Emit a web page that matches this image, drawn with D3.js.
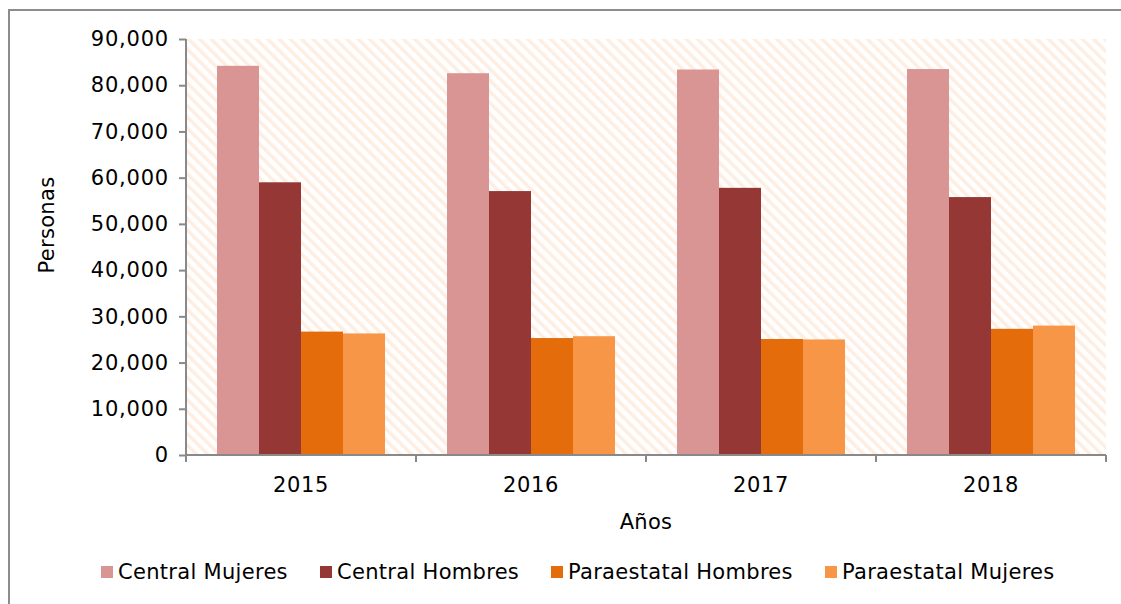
<!DOCTYPE html>
<html lang="es">
<head>
<meta charset="UTF-8">
<title>Personas por año</title>
<style>
  body { margin: 0; background: #fff; }
  svg text { font-family: "DejaVu Sans", Verdana, sans-serif; fill: #000; font-size: 21px; }
  .axis path, .axis line { stroke: #898989; stroke-width: 2px; }
</style>
</head>
<body>
<script src="https://d3js.org/d3.v7.min.js"></script>
<script>
// data
const years = ['2015', '2016', '2017', '2018'];
const seriesNames = ['Central Mujeres', 'Central Hombres', 'Paraestatal Hombres', 'Paraestatal Mujeres'];
const centralMujeres = [84200, 82600, 83400, 83500];
const centralHombres = [59000, 57100, 57800, 55800];
const paraHombres = [26700, 25300, 25100, 27300];
const paraMujeres = [26300, 25700, 25000, 28000];
const yTicks = [0, 10000, 20000, 30000, 40000, 50000, 60000, 70000, 80000, 90000];

const colors = ['#d99594', '#953735', '#e46c0a', '#f79646'];
const allSeries = [centralMujeres, centralHombres, paraHombres, paraMujeres];

const W = 1121, H = 604;
const margin = { top: 39, right: 15, bottom: 149, left: 186 };
const width = W - margin.left - margin.right;
const height = H - margin.top - margin.bottom;

const svg = d3.select('body').append('svg')
  .attr('width', W)
  .attr('height', H);

// outer frame (cut off at right/bottom like the original)
svg.append('path')
  .attr('d', `M9,${H} V10 H${W}`)
  .attr('fill', 'none')
  .attr('stroke', '#8c8c8c')
  .attr('stroke-width', 2);

// hatch pattern for plot background
const defs = svg.append('defs');
const pat = defs.append('pattern')
  .attr('id', 'hatch')
  .attr('patternUnits', 'userSpaceOnUse')
  .attr('width', 8)
  .attr('height', 8)
  .attr('patternTransform', 'rotate(-45)');
pat.append('rect').attr('width', 8).attr('height', 8).attr('fill', '#fff');
pat.append('rect').attr('width', 3.5).attr('height', 8).attr('fill', '#feeee2');

const g = svg.append('g')
  .attr('transform', `translate(${margin.left},${margin.top})`);

g.append('rect')
  .attr('width', width)
  .attr('height', height)
  .attr('fill', 'url(#hatch)');

const x0 = d3.scaleBand().domain(years).range([0, width]).padding(0);
const x1 = d3.scaleBand().domain(seriesNames).range([0, x0.bandwidth()])
  .paddingInner(0).paddingOuter(0.738);
const y = d3.scaleLinear().domain([0, 90000]).range([height, 0]);

// bars
const groups = g.selectAll('.year')
  .data(years)
  .join('g')
  .attr('class', 'year')
  .attr('transform', d => `translate(${x0(d)},0)`);

groups.selectAll('rect')
  .data((d, i) => seriesNames.map((s, j) => ({ s, j, v: allSeries[j][i] })))
  .join('rect')
  .attr('x', d => x1(d.s))
  .attr('y', d => y(d.v))
  .attr('width', x1.bandwidth())
  .attr('height', d => height - y(d.v))
  .attr('fill', d => colors[d.j]);

// y axis
const yAxis = g.append('g')
  .attr('class', 'axis')
  .call(d3.axisLeft(y).tickValues(yTicks).tickSize(7).tickPadding(10)
    .tickFormat(d3.format(',')));
yAxis.select('.domain').attr('d', `M0,${height}V0`);
yAxis.selectAll('text')
  .style('font-size', '21px')
  .style('letter-spacing', '0.8px');

// x axis: ticks at group boundaries, labels centered
const xAxis = g.append('g')
  .attr('class', 'axis')
  .attr('transform', `translate(0,${height})`);
xAxis.append('path')
  .attr('d', `M0,0H${width}`)
  .attr('fill', 'none');
const bounds = years.map(d => x0(d)).concat([width]);
xAxis.selectAll('.bt')
  .data(bounds)
  .join('line')
  .attr('class', 'bt')
  .attr('x1', d => d).attr('x2', d => d)
  .attr('y1', 0).attr('y2', 7);
xAxis.selectAll('.lbl')
  .data(years)
  .join('text')
  .attr('class', 'lbl')
  .attr('x', d => x0(d) + x0.bandwidth() / 2)
  .attr('y', 37)
  .attr('text-anchor', 'middle')
  .style('letter-spacing', '0.6px')
  .text(d => d);

// axis titles
svg.append('text')
  .attr('transform', 'translate(54,225) rotate(-90)')
  .attr('text-anchor', 'middle')
  .style('letter-spacing', '0.3px')
  .text('Personas');
svg.append('text')
  .attr('x', margin.left + width / 2)
  .attr('y', 529)
  .attr('text-anchor', 'middle')
  .style('letter-spacing', '0.3px')
  .text('Años');

// legend
const legendX = [101, 320, 551, 825];
const legend = svg.selectAll('.leg')
  .data(seriesNames)
  .join('g')
  .attr('class', 'leg')
  .attr('transform', (d, i) => `translate(${legendX[i]},566)`);
legend.append('rect')
  .attr('width', 12).attr('height', 12)
  .attr('fill', (d, i) => colors[i]);
legend.append('text')
  .attr('x', 17)
  .attr('y', 13)
  .style('letter-spacing', '0.3px')
  .text(d => d);
</script>
</body>
</html>
